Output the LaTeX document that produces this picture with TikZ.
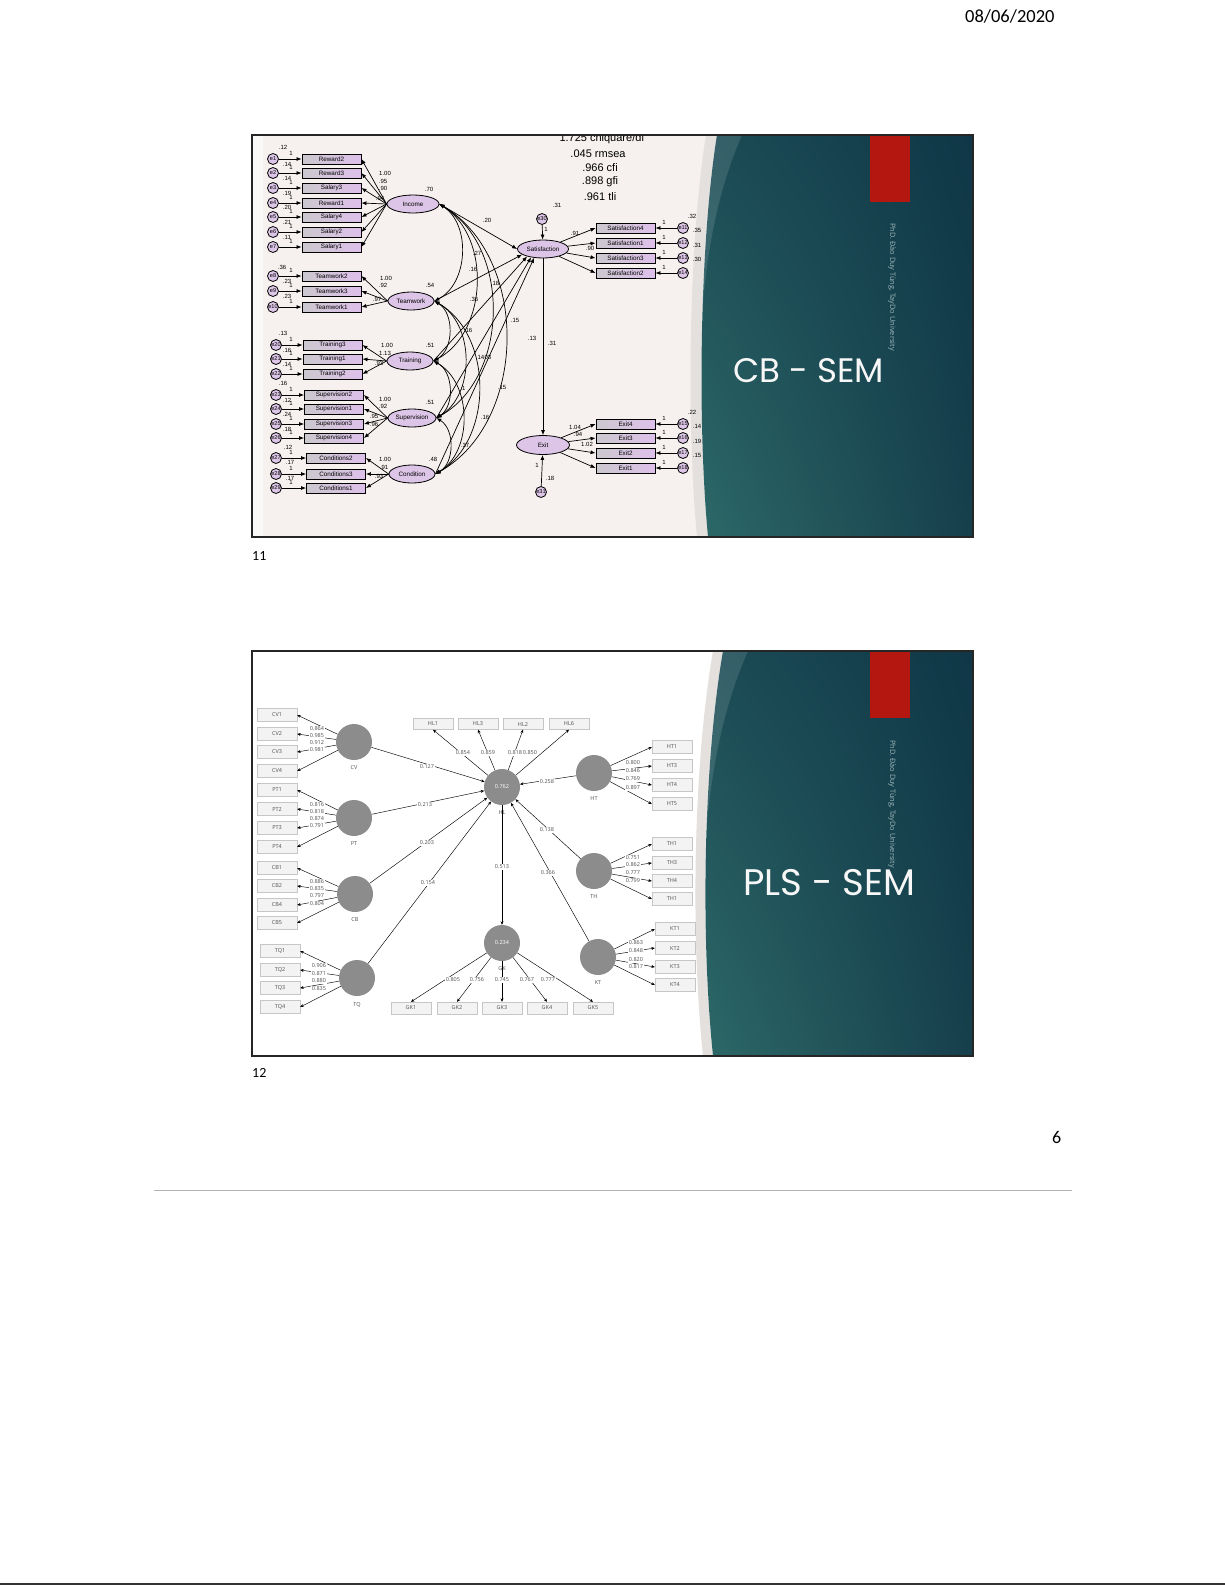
\documentclass[tikz,border=0pt]{standalone}
\usepackage{fontspec}
\setmainfont{Liberation Sans}
\newfontfamily\calfont{Carlito}
\newfontfamily\titlefont{Poppins}
\newfontfamily\vnfont{Open Sans}
\usetikzlibrary{shapes.geometric,arrows.meta,shadings}
\definecolor{amosbg}{HTML}{F6F1EE}
\definecolor{amosstrip}{HTML}{FBF9F8}
\definecolor{lilac}{HTML}{DCC5E6}
\definecolor{boxgrey}{HTML}{CBC8CE}
\definecolor{boxlilac}{HTML}{DEC0EA}
\definecolor{tealA}{HTML}{1C4C56}
\definecolor{tealB}{HTML}{0F3747}
\definecolor{tealC}{HTML}{2D6968}
\definecolor{tealD}{HTML}{163F4C}
\definecolor{greyband}{HTML}{E3E0DD}
\definecolor{redrect}{HTML}{B3170F}
\definecolor{vtext}{HTML}{9DB5B8}
\definecolor{plsgrey}{HTML}{8C8C8C}
\definecolor{plsbox}{HTML}{F3F3F3}
\definecolor{plsedge}{HTML}{C6C6C6}
\definecolor{plstext}{HTML}{505050}
\begin{document}
\begin{tikzpicture}[x=1pt,y=-1pt,
  obs/.style={draw=black, line width=0.9pt, left color=boxgrey, right color=boxlilac, minimum width=59pt, minimum height=10pt, inner sep=0pt, font=\fontsize{6.3}{6.3}\selectfont},
  lat/.style={ellipse, draw=black, line width=0.8pt, fill=lilac, minimum height=18pt, inner sep=0pt, font=\fontsize{6.3}{6.3}\selectfont},
  err/.style={circle, draw=black, line width=0.8pt, fill=lilac, minimum size=11pt, inner sep=0pt, font=\fontsize{5.6}{5.6}\selectfont},
  num/.style={inner sep=0pt, font=\fontsize{6}{6}\selectfont},
  fit/.style={inner sep=0pt, font=\fontsize{11}{11}\selectfont},
  amosarr/.style={-{Latex[length=5pt,width=4pt]}, line width=0.7pt},
  amoscov/.style={{Latex[length=5pt,width=4pt]}-{Latex[length=5pt,width=4pt]}, line width=0.7pt},
  plsind/.style={draw=plsedge, fill=plsbox, minimum width=40pt, minimum height=13pt, inner sep=0pt, text=plstext, font=\vnfont\fontsize{5.5}{5.5}\selectfont},
  plslv/.style={circle, fill=plsgrey, minimum size=36pt, inner sep=0pt, text=white, font=\vnfont\fontsize{5.5}{5.5}\selectfont},
  plsnum/.style={inner sep=0.6pt, text=plstext, font=\vnfont\fontsize{5.5}{5.5}\selectfont},
  plsarr/.style={-{Stealth[length=3.5pt,width=3pt]}, line width=0.45pt},
  slidetitle/.style={anchor=base west, inner sep=0pt, text=white!94!gray, font=\titlefont\fontsize{34}{34}\selectfont},
  author/.style={rotate=-90, anchor=west, inner sep=0pt, text=vtext, font=\vnfont\fontsize{7.4}{7.4}\selectfont},
  pagenum/.style={anchor=base west, inner sep=0pt, font=\calfont\fontsize{14}{14}\selectfont}
]
\useasboundingbox (0,0) rectangle (1225,1585);
\fill[white] (0,0) rectangle (1225,1585);

% ---------------- page furniture ----------------
\node[pagenum, font=\calfont\fontsize{18.5}{18.5}\selectfont] (date) at (965,22) {08/06/2020};
\node[pagenum] (n11) at (252,560) {11};
\node[pagenum] (n12) at (252,1077) {12};
\node[pagenum, font=\calfont\fontsize{18}{18}\selectfont] (n6) at (1052,1143) {6};
\draw[gray!60, line width=0.8pt] (154,1190) -- (1072,1190);
\draw[black!80, line width=1.5pt] (0,1584) -- (1225,1584);

% ================= TOP SLIDE (CB-SEM) =================
\begin{scope}
\clip (252,135) rectangle (973,537);
\fill[amosbg] (252,135) rectangle (973,537);
\fill[amosstrip] (252,135) rectangle (263,537);
% teal panel
\fill[greyband] (706,135) .. controls (689,240) and (686,420) .. (697,537) -- (708,537) .. controls (697,420) and (700,240) .. (717,135) -- cycle;
\shade[upper left=tealA, upper right=tealB, lower left=tealC, lower right=tealD] (717,135) .. controls (700,240) and (697,420) .. (708,537) -- (973,537) -- (973,135) -- cycle;
\fill[white, opacity=0.12] (717,135) .. controls (706,200) and (702,260) .. (701,330) .. controls (706,250) and (718,190) .. (742,135) -- cycle;
\fill[redrect] (870,135) rectangle (910,202);
\node[author] (auth1) at (892,223) {PhD. Đào Duy Tùng, TayDo University};
\node[slidetitle] (cbsem) at (733,382) {CB - SEM};

% fit statistics
\node[fit] (f1) at (602,139) {1.725 chiquare/df};
\node[fit] (f2) at (598,154) {.045 rmsea};
\node[fit] (f3) at (600,168) {.966 cfi};
\node[fit] (f4) at (600,182) {.898 gfi};
\node[fit] (f5) at (600,197) {.961 tli};

% latent variables
\node[lat, minimum width=52pt] (inc) at (413,204) {Income};
\node[lat, minimum width=46pt] (tw) at (411,301) {Teamwork};
\node[lat, minimum width=46pt] (tr) at (410,361) {Training};
\node[lat, minimum width=48pt] (su) at (412,418) {Supervision};
\node[lat, minimum width=46pt] (co) at (412,474) {Condition};
\node[lat, minimum width=51pt] (sat) at (543,249) {Satisfaction};
\node[lat, minimum width=53pt, minimum height=19pt] (ex) at (543,445) {Exit};
\node[err] (e30) at (542,219) {e30};
\node[err] (e31) at (541,492) {e31};

% left indicators
\foreach \b/\bx/\cx/\y/\t/\e/\f in {
  a1/331.5/273/159/Reward2/e1/inc, a2/331.5/273/173/Reward3/e2/inc, a3/331.5/273/188/Salary3/e3/inc,
  a4/331.5/273/203/Reward1/e4/inc, a5/331.5/273/217/Salary4/e5/inc, a6/331.5/273/232/Salary2/e6/inc,
  a7/331.5/273/247/Salary1/e7/inc,
  a8/331.5/273/276/Teamwork2/e8/tw, a9/331.5/273/291/Teamwork3/e9/tw, a10/331.5/273/307/Teamwork1/e10/tw,
  a11/332.5/276/345/Training3/e20/tr, a12/332.5/276/359/Training1/e21/tr, a13/332.5/276/374/Training2/e22/tr,
  a14/334/276/395/Supervision2/e23/su, a15/334/276/409/Supervision1/e24/su, a16/334/276/424/Supervision3/e25/su,
  a17/334/276/438/Supervision4/e26/su,
  a18/336/276/458/Conditions2/e27/co, a19/336/276/474/Conditions3/e28/co, a20/336/276/488/Conditions1/e29/co}{
  \node[obs] (\b) at (\bx,\y) {\t};
  \node[err] (\e) at (\cx,\y) {\e};
  \draw[amosarr] (\e) -- (\b);
  \node[num] at (291,\y-6) {1};
  \draw[amosarr] (\f.west) -- (\b.east);
}

% right indicators
\foreach \b/\y/\t/\e/\f in {
  s1/228/Satisfaction4/e11/sat, s2/243/Satisfaction1/e12/sat, s3/258/Satisfaction3/e13/sat, s4/273/Satisfaction2/e14/sat,
  x1/424/Exit4/e15/ex, x2/438/Exit3/e16/ex, x3/453/Exit2/e17/ex, x4/468/Exit1/e18/ex}{
  \node[obs] (\b) at (625.5,\y) {\t};
  \node[err] (\e) at (683,\y) {\e};
  \draw[amosarr] (\e) -- (\b);
  \node[num] at (664,\y-6) {1};
  \draw[amosarr] (\f) -- (\b.west);
}

% covariances
\foreach \a/\c in {inc/tw, inc/tr, inc/su, inc/co, tw/tr, tw/su, tw/co, tr/su, tr/co, su/co}{
  \draw[amoscov] (\a.east) to[bend left=60] (\c.east);
}
% structural paths
\draw[amosarr] (inc.east) -- (sat.west);
\draw[amosarr] (tw.east) -- (sat.-165);
\draw[amosarr] (tr.east) -- (sat.-155);
\draw[amosarr] (su.east) -- (sat.-145);
\draw[amosarr] (co.east) -- (sat.-135);
\draw[amosarr] (sat) -- (ex);
\draw[amosarr] (e30) -- (sat);
\draw[amosarr] (e31) -- (ex);

% numbers
\foreach \p/\t in {{(283,147)}/.12, {(287,164)}/.14, {(287,178)}/.14, {(287,193)}/.19, {(287,207)}/.20, {(287,222)}/.21, {(287,237)}/.11,
  {(282,267)}/.36, {(287,281)}/.23, {(287,296)}/.23,
  {(283,333)}/.13, {(287,350)}/.16, {(287,364)}/.14,
  {(283,383)}/.16, {(287,400)}/.12, {(287,414)}/.24, {(287,429)}/.18,
  {(288,447)}/.12, {(290,462)}/.17, {(290,478)}/.17,
  {(385,173)}/1.00, {(383,181)}/.95, {(383,188)}/.90, {(380,198)}/.94, {(429,189)}/.70,
  {(386,278)}/1.00, {(383,285)}/.92, {(377,299)}/.97, {(430,285)}/.54,
  {(387,345)}/1.00, {(385,353)}/1.13, {(379,363)}/.93, {(430,345)}/.51,
  {(385,399)}/1.00, {(383,406)}/.92, {(374,416)}/.95, {(374,424)}/.96, {(430,402)}/.51,
  {(385,459)}/1.00, {(384,467)}/.91, {(379,476)}/.93, {(433,459)}/.48,
  {(487,220)}/.20, {(477,253)}/.27, {(473,269)}/.16, {(474,299)}/.36, {(495,283)}/.18, {(515,320)}/.15,
  {(468,330)}/.16, {(480,357)}/.14, {(487,357)}/.03, {(463,388)}/.1, {(502,387)}/.15, {(485,417)}/.16, {(465,445)}/.37,
  {(532,338)}/.13, {(552,343)}/.31,
  {(557,205)}/.31, {(546,229)}/1, {(575,233)}/.91, {(590,248)}/.90,
  {(692,216)}/.32, {(697,230)}/.35, {(697,245)}/.31, {(697,259)}/.30,
  {(575,427)}/1.04, {(578,434)}/.94, {(587,444)}/1.02,
  {(692,412)}/.22, {(697,426)}/.14, {(697,441)}/.19, {(697,455)}/.15,
  {(550,478)}/.18, {(537,465)}/1}{
  \node[num] at \p {\t};
}
\end{scope}
\draw[black!85, line width=1.2pt] (252,135) rectangle (973,537);

% ================= BOTTOM SLIDE (PLS-SEM) =================
\begin{scope}
\clip (252,651) rectangle (973,1056);
\fill[white] (252,651) rectangle (973,1056);
\fill[greyband] (713,651) .. controls (694,760) and (690,930) .. (703,1056) -- (713,1056) .. controls (700,930) and (704,760) .. (723,651) -- cycle;
\shade[upper left=tealA, upper right=tealB, lower left=tealC, lower right=tealD] (723,651) .. controls (704,760) and (700,930) .. (713,1056) -- (973,1056) -- (973,651) -- cycle;
\fill[white, opacity=0.12] (723,651) .. controls (711,720) and (706,780) .. (705,850) .. controls (710,770) and (724,705) .. (748,651) -- cycle;
\fill[redrect] (870,651) rectangle (910,718);
\node[author] (auth2) at (892,740) {PhD. Đào Duy Tùng, TayDo University};
\node[slidetitle, font=\titlefont\fontsize{37}{37}\selectfont] (plssem) at (743,895) {PLS - SEM};

% latent variables
\node[plslv] (cv) at (354,742) {};
\node[plslv] (pt) at (354,818) {};
\node[plslv] (cb) at (355,894) {};
\node[plslv] (tq) at (357,978) {};
\node[plslv] (hl) at (502,787) {0.762};
\node[plslv] (ht) at (594,773) {};
\node[plslv] (th) at (594,871) {};
\node[plslv] (gk) at (502,943) {0.234};
\node[plslv] (kt) at (598,957) {};
\foreach \n/\t in {cv/CV, pt/PT, cb/CB, tq/TQ, hl/HL, ht/HT, th/TH, gk/GK, kt/KT}{
  \node[plsnum, anchor=north] at ([yshift=-5pt]\n.south) {\t};
}

% indicators
\foreach \b/\x/\y/\t in {
  cv1/277/715/CV1, cv2/277/734/CV2, cv3/277/752/CV3, cv4/277/771/CV4,
  pt1/277/790/PT1, pt2/277/809/PT2, pt3/277/828/PT3, pt4/277/847/PT4,
  cb1/277/868/CB1, cb2/277/886/CB2, cb3/277/905/CB4, cb4/277/923/CB5,
  tq1/280/951/TQ1, tq2/280/970/TQ2, tq3/280/988/TQ3, tq4/280/1007/TQ4,
  ht1/672/747/HT1, ht2/672/766/HT3, ht3/672/785/HT4, ht4/672/804/HT5,
  th1/672/844/TH1, th2/672/863/TH3, th3/672/881/TH4, th4/672/899/TH1,
  kt1/675/929/KT1, kt2/675/948/KT2, kt3/675/967/KT3, kt4/675/985/KT4}{
  \node[plsind] (\b) at (\x,\y) {\t};
}
\foreach \l/\b/\s/\lx/\ly/\v in {
  cv/cv1/east/317/729/0.864, cv/cv2/east/317/736/0.985, cv/cv3/east/317/743/0.912, cv/cv4/east/317/750/0.981,
  pt/pt1/east/317/805/0.816, pt/pt2/east/317/812/0.818, pt/pt3/east/317/819/0.874, pt/pt4/east/317/826/0.791,
  cb/cb1/east/317/882/0.886, cb/cb2/east/317/889/0.835, cb/cb3/east/317/896/0.797, cb/cb4/east/317/904/0.804,
  tq/tq1/east/319/966/0.906, tq/tq2/east/319/974/0.871, tq/tq3/east/319/981/0.880, tq/tq4/east/319/989/0.835,
  ht/ht1/west/633/763/0.800, ht/ht2/west/633/771/0.846, ht/ht3/west/633/779/0.769, ht/ht4/west/633/788/0.897,
  th/th1/west/633/858/0.751, th/th2/west/633/865/0.862, th/th3/west/633/873/0.777, th/th4/west/633/881/0.799,
  kt/kt1/west/636/943/0.863, kt/kt2/west/636/951/0.848, kt/kt3/west/636/960/0.820, kt/kt4/west/636/967/0.817}{
  \draw[plsarr] (\l) -- (\b.\s);
  \node[plsnum, fill=white] at (\lx,\ly) {\v};
}
% HL and GK indicators
\foreach \b/\x/\t/\lx/\v in {hl1/433/HL1/463/0.854, hl2/478/HL3/488/0.859, hl3/523/HL2/515/0.818, hl4/569/HL6/530/0.850}{
  \node[plsind, minimum height=11pt] (\b) at (\x,724) {\t};
  \draw[plsarr] (hl) -- (\b.south);
  \node[plsnum, fill=white] at (\lx,753) {\v};
}
\foreach \b/\x/\t/\lx/\v in {gk1/411/GK1/453/0.805, gk2/457/GK2/477/0.756, gk3/502/GK3/502/0.745, gk4/547/GK4/527/0.767, gk5/593/GK5/548/0.777}{
  \node[plsind, minimum height=12pt] (\b) at (\x,1008) {\t};
  \draw[plsarr] (gk) -- (\b.north);
  \node[plsnum, fill=white] at (\lx,980) {\v};
}
% structural paths
\foreach \s/\lx/\ly/\v in {cv/427/767/0.127, pt/425/805/0.213, cb/427/843/0.203, tq/428/883/0.154,
  ht/547/782/0.258, th/547/830/0.138, kt/548/873/0.366}{
  \draw[plsarr] (\s) -- (hl);
  \node[plsnum, fill=white] at (\lx,\ly) {\v};
}
\draw[plsarr, line width=0.7pt] (hl) -- (gk);
\node[plsnum, fill=white] at (502,867) {0.513};
\end{scope}
\draw[black!85, line width=1.2pt] (252,651) rectangle (973,1056);
\end{tikzpicture}
\end{document}
